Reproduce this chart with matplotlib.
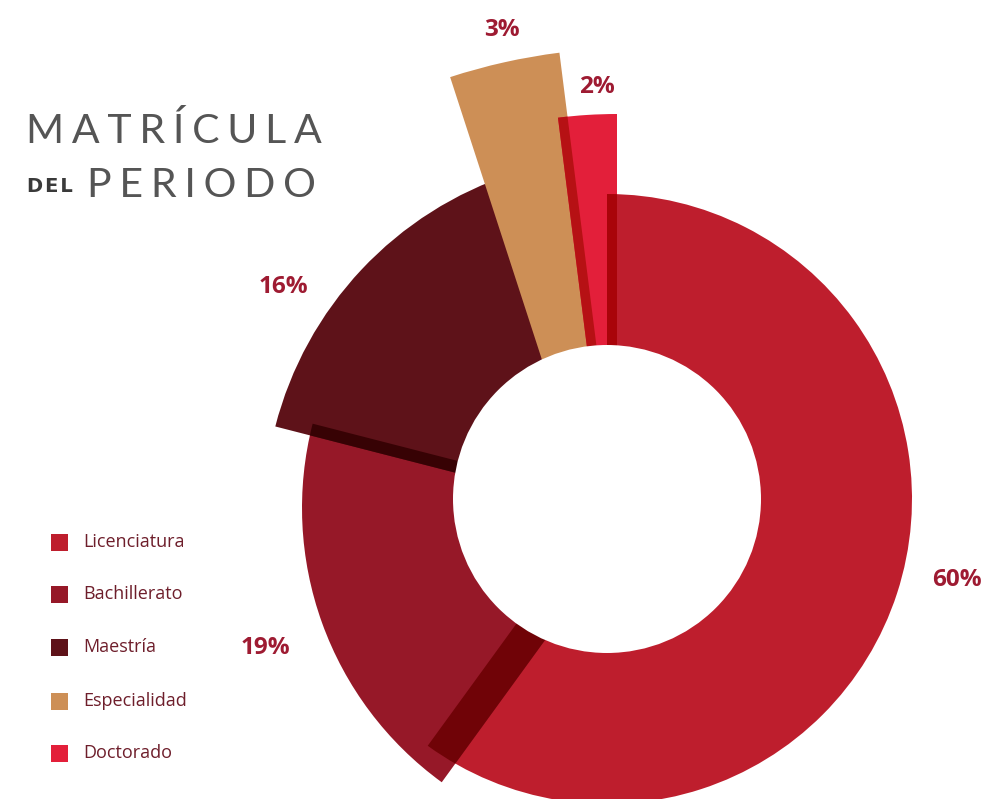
import matplotlib
matplotlib.use("Agg")

import matplotlib.pyplot as plt
from matplotlib.colors import to_rgb
from matplotlib.patches import Wedge, Circle, Rectangle

# Data
categories = ["Licenciatura", "Bachillerato", "Maestría", "Especialidad", "Doctorado"]
values = [60, 19, 16, 3, 2]
colors = ["#BE1E2D", "#961828", "#5E1219", "#CD8F56", "#E31F3A"]

# Slice geometry (pixel coords, y down) - each slice is a little offset / enlarged
slice_centers = [(607, 499), (641, 508), (624, 516), (634, 643), (617, 585)]
slice_radii = [305, 339, 360, 595, 471]
label_pos = [(957, 586), (265, 654), (283, 293), (502, 36), (597, 93)]

# Overlaps drawn with a "multiply" look
overlap_pairs = [(0, 1), (1, 2), (0, 4), (3, 4)]

W, H = 986, 799
HOLE_CENTER = (607, 499)
HOLE_R = 154
LABEL_COLOR = "#9E1B32"
LEGEND_TEXT = "#6E1E2B"
TITLE_COLOR = "#555555"


def Y(y):
    return H - y


def multiply(c1, c2):
    a, b = to_rgb(c1), to_rgb(c2)
    return tuple(x * y for x, y in zip(a, b))


def slice_wedge(i, color, start, end, z):
    cx, cy = slice_centers[i]
    return Wedge((cx, Y(cy)), slice_radii[i], 90 - end, 90 - start,
                 facecolor=color, edgecolor="none", zorder=z)


def spaced(s, sep="\u2009"):
    return sep.join(list(s))


fig = plt.figure(figsize=(W / 100, H / 100), dpi=100, facecolor="white")
ax = fig.add_axes([0, 0, 1, 1])
ax.set_xlim(0, W)
ax.set_ylim(0, H)
ax.axis("off")

total = sum(values)
bounds = []
acc = 0
for v in values:
    bounds.append((360 * acc / total, 360 * (acc + v) / total))
    acc += v

# ── SLICES ──
patches = []
for i, (start, end) in enumerate(bounds):
    p = slice_wedge(i, colors[i], start, end, 1 + i)
    ax.add_patch(p)
    patches.append(p)

for i, j in overlap_pairs:
    start, end = bounds[j]
    ov = slice_wedge(j, multiply(colors[i], colors[j]), start, end, 7)
    ax.add_patch(ov)
    ov.set_clip_path(patches[i])

ax.add_patch(Circle((HOLE_CENTER[0], Y(HOLE_CENTER[1])), HOLE_R,
                    facecolor="white", edgecolor="none", zorder=10))

# ── PERCENT LABELS ──
for v, (x, y) in zip(values, label_pos):
    ax.text(x, Y(y), f"{v}%", color=LABEL_COLOR, fontsize=17.5,
            fontweight="bold", fontfamily="Open Sans",
            ha="center", va="baseline", zorder=12)

# ── LEGEND ──
legend_y = [542, 594, 647, 701, 753]
for cat, col, y in zip(categories, colors, legend_y):
    ax.add_patch(Rectangle((51, Y(y) - 8.5), 17, 17, facecolor=col,
                           edgecolor="none", zorder=12))
    ax.text(83, Y(y), cat, color=LEGEND_TEXT, fontsize=13,
            fontfamily="Open Sans", ha="left", va="center", zorder=12)

# ── TITLE ──
title_sep = "\u2009\u200a"
ax.text(26, Y(143), spaced("MATRÍCULA", title_sep), color=TITLE_COLOR,
        fontsize=29.5, fontweight="normal", family=["Lato", "DejaVu Sans"],
        ha="left", va="baseline")
ax.text(27, Y(192), spaced("DEL", "\u200a"), color="#3A3A3A", fontsize=14,
        fontweight="heavy", family=["DejaVu Sans"],
        ha="left", va="baseline")
ax.text(87, Y(197), spaced("PERIODO", title_sep), color=TITLE_COLOR,
        fontsize=29.5, fontweight="normal", family=["Lato", "DejaVu Sans"],
        ha="left", va="baseline")

fig.savefig("out.png", dpi=100, facecolor="white")
plt.close(fig)
